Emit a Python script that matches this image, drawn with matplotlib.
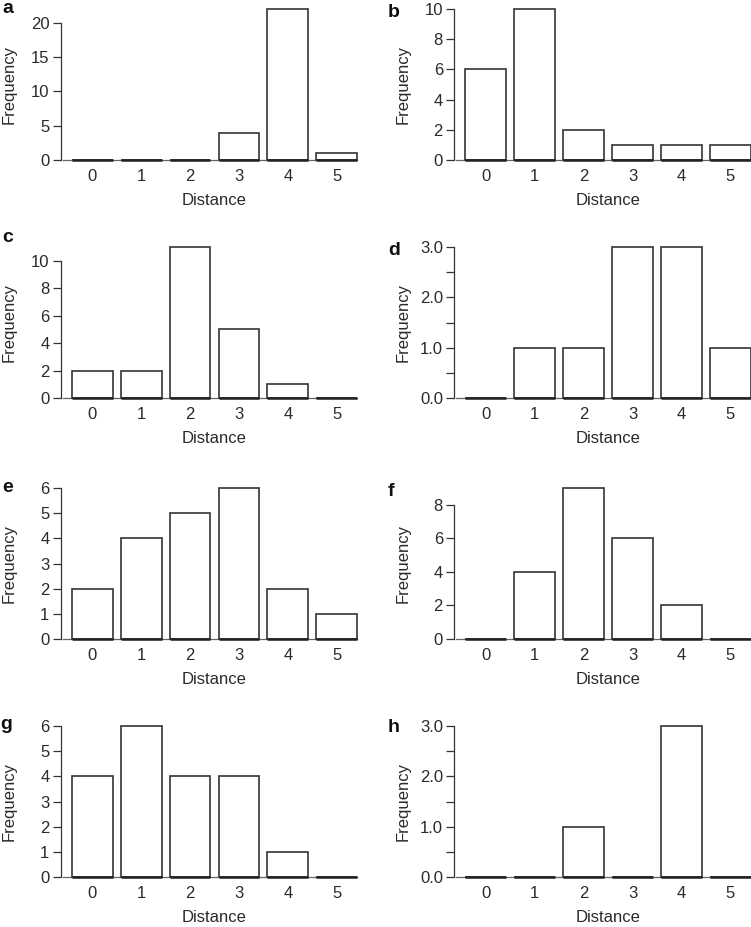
import matplotlib
matplotlib.use("Agg")
import matplotlib.pyplot as plt

plt.rcParams["font.family"] = ["Liberation Sans", "DejaVu Sans"]

distance = [0, 1, 2, 3, 4, 5]
freq_a = [0, 0, 0, 4, 22, 1]
freq_b = [6, 10, 2, 1, 1, 1]
freq_c = [2, 2, 11, 5, 1, 0]
freq_d = [0, 1, 1, 3, 3, 1]
freq_e = [2, 4, 5, 6, 2, 1]
freq_f = [0, 4, 9, 6, 2, 0]
freq_g = [4, 6, 4, 4, 1, 0]
freq_h = [0, 0, 1, 0, 3, 0]

yticks_a = [0, 5, 10, 15, 20]
yticks_b = [0, 2, 4, 6, 8, 10]
yticks_c = [0, 2, 4, 6, 8, 10]
yticks_d = [0, 0.5, 1, 1.5, 2, 2.5, 3]
yticks_e = [0, 1, 2, 3, 4, 5, 6]
yticks_f = [0, 2, 4, 6, 8]
yticks_g = [0, 1, 2, 3, 4, 5, 6]
yticks_h = [0, 0.5, 1, 1.5, 2, 2.5, 3]

panels = [
    ("a", freq_a, yticks_a, 0, 0),
    ("b", freq_b, yticks_b, 0, 1),
    ("c", freq_c, yticks_c, 1, 0),
    ("d", freq_d, yticks_d, 1, 1),
    ("e", freq_e, yticks_e, 2, 0),
    ("f", freq_f, yticks_f, 2, 1),
    ("g", freq_g, yticks_g, 3, 0),
    ("h", freq_h, yticks_h, 3, 1),
]

W, H = 751, 927
fig = plt.figure(figsize=(W / 100, H / 100), dpi=100)

# pixel layout (R barplot look): zero line per row, y-axis x per column
zero_px = [160, 398, 639, 877]
axis_px = [60.5, 454]
data_px = 151          # pixel height from 0 to max bar
ext = 0.04 * data_px
ax_h = data_px + 2 * ext
ax_w = 308
letter_pos = {"a": (2, 13), "b": (388, 17), "c": (2, 242), "d": (388, 255),
              "e": (2, 492), "f": (388, 496), "g": (0, 729), "h": (388, 732)}

# bar geometry like R barplot: width 1, space 0.2
lefts = [0.2 + 1.2 * i for i in range(len(distance))]
centers = [l + 0.5 for l in lefts]
ink = "#2a2a2a"

for letter, vals, yt, row, col in panels:
    z = zero_px[row]
    bottom = 1 - (z + ext) / H
    ax = fig.add_axes([axis_px[col] / W, bottom, ax_w / W, ax_h / H])
    top = max(vals)
    ax.set_xlim(-0.08, 7.48)
    ax.set_ylim(-0.04 * top, 1.04 * top)
    ax.plot([-0.03, 7.2], [0, 0], color="#666666", lw=0.9, zorder=1,
            clip_on=False)
    ax.bar(lefts, vals, width=1.0, align="edge", facecolor="white",
           edgecolor="#333333", linewidth=1.2, zorder=2, clip_on=False)
    # bar bottoms (and zero-height bars) show as dark dashes
    for l in lefts:
        ax.plot([l, l + 1], [0, 0], color="#222222", lw=1.8, zorder=3,
                solid_capstyle="butt", clip_on=False)

    for s in ("top", "right", "bottom"):
        ax.spines[s].set_visible(False)
    ax.spines["left"].set_bounds(yt[0], yt[-1])
    ax.spines["left"].set_color("#333333")
    ax.spines["left"].set_linewidth(0.9)

    ax.set_yticks(yt)
    if yt[1] == 0.5:
        ax.set_yticklabels([f"{t:.1f}" if t == int(t) else "" for t in yt])
    else:
        ax.set_yticklabels([str(t) for t in yt])
    ax.tick_params(axis="y", length=6, width=0.9, color="#333333",
                   pad=2, labelsize=12, labelcolor=ink)
    ax.set_xticks(centers)
    ax.set_xticklabels([str(d) for d in distance])
    ax.tick_params(axis="x", length=0, pad=2, labelsize=12, labelcolor=ink)
    ax.set_xlabel("Distance", fontsize=12, color=ink, va="top")
    ax.xaxis.set_label_coords(0.5, -27 / ax_h)
    ax.set_ylabel("Frequency", fontsize=12, color=ink, va="center")
    ax.yaxis.set_label_coords(-51 / ax_w, 0.5)
    ax.patch.set_visible(False)

    lx, ly = letter_pos[letter]
    fig.text(lx / W, 1 - ly / H, letter, fontsize=14, fontweight="bold",
             ha="left", va="baseline", color="#111111")

fig.savefig("out.png", dpi=100, facecolor="white")
